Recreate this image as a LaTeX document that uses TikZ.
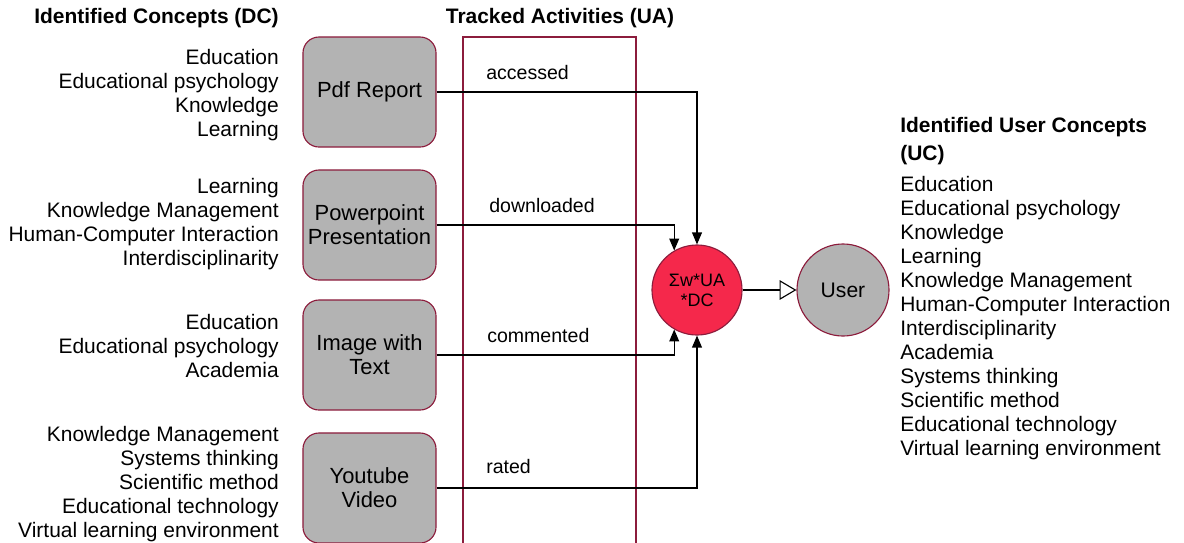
\documentclass[tikz,border=0pt]{standalone}
\usepackage{fontspec}
\setmainfont{Liberation Sans}
\usetikzlibrary{arrows.meta, positioning}
\definecolor{boxGray}{RGB}{179,179,179}
\definecolor{edgeRed}{RGB}{140,28,60}
\definecolor{sumRed}{RGB}{245,40,75}
\tikzstyle{docNode} = [rectangle, minimum width=3.325cm, minimum height=2.75cm, text centered, align=center, rounded corners=0.4cm, draw=edgeRed, fill=boxGray, line width=0.8pt, font=\fontsize{15.6}{17.1}\selectfont]
\tikzstyle{sumNode} = [circle, minimum size=2.25cm, inner sep=0pt, align=center, draw=edgeRed, fill=sumRed, line width=0.8pt, font=\fontsize{12.8}{14.2}\selectfont]
\tikzstyle{userNode} = [circle, minimum size=2.3cm, inner sep=0pt, draw=edgeRed, fill=boxGray, line width=0.8pt, font=\fontsize{15}{17}\selectfont]
\tikzstyle{conList} = [inner sep=0pt, font=\fontsize{14.9}{17.07}\selectfont]
\tikzstyle{titleText} = [inner sep=0pt, font=\fontsize{14.9}{19.9}\selectfont\bfseries]
\tikzstyle{actLabel} = [inner sep=0pt, anchor=west, font=\fontsize{13.9}{17}\selectfont]
\tikzstyle{arrow} = [line width=0.8pt, -{Triangle[length=8.5pt,width=7pt]}, draw=black]
\tikzstyle{arrowOpen} = [line width=0.8pt, -{Triangle[open,length=12pt,width=14pt]}, draw=black, fill=white]
\begin{document}
\begin{tikzpicture}[x=0.025cm, y=-0.025cm]
        \useasboundingbox (0,0) rectangle (1184,542);
        \draw [edgeRed, line width=0.8pt] (463,37) rectangle (636,570);

        \node (dcTitle) [titleText, anchor=east] at (279,18) {Identified Concepts (DC)};
        \node (uaTitle) [titleText] at (560,18) {Tracked Activities (UA)};
        \node (ucTitle) [titleText, anchor=west, align=left] at (900,141) {Identified User Concepts\\(UC)};

        \node (dcPdf) [conList, anchor=east, align=right] at (279,95)
            {Education\\Educational psychology\\Knowledge\\Learning};
        \node (dcPpt) [conList, anchor=east, align=right] at (279,224)
            {Learning\\Knowledge Management\\Human-Computer Interaction\\Interdisciplinarity};
        \node (dcImg) [conList, anchor=east, align=right] at (279,346)
            {Education\\Educational psychology\\Academia};
        \node (dcYt) [conList, anchor=east, align=right] at (279,484)
            {Knowledge Management\\Systems thinking\\Scientific method\\Educational technology\\Virtual learning environment};

        \node (pdf) [docNode] at (369.5,92) {\raisebox{-3pt}{Pdf Report}};
        \node (ppt) [docNode] at (369.5,225) {Powerpoint\\Presentation};
        \node (img) [docNode] at (369.5,355) {Image with\\Text};
        \node (yt) [docNode] at (369.5,488) {Youtube\\Video};

        \node (sum) [sumNode] at (697,290) {Σw*UA\\*DC};
        \node (user) [userNode] at (843,290) {User};

        \node (ucList) [conList, anchor=west, align=left] at (900,318.5)
            {Education\\Educational psychology\\Knowledge\\Learning\\Knowledge Management\\Human-Computer Interaction\\Interdisciplinarity\\Academia\\Systems thinking\\Scientific method\\Educational technology\\Virtual learning environment};

        \draw [arrow] (pdf.east) -| (sum.north);
        \draw [arrow] (ppt.east) -| (sum.120);
        \draw [arrow] (img.east) -| (sum.240);
        \draw [arrow] (yt.east) -| (sum.south);
        \draw [arrowOpen] (sum) -- (user);

        \node (accLbl) [actLabel] at (486,73) {accessed};
        \node (dlLbl) [actLabel] at (489,206) {downloaded};
        \node (comLbl) [actLabel] at (487,336) {commented};
        \node (rateLbl) [actLabel] at (486,467) {rated};
    \end{tikzpicture}
\end{document}
